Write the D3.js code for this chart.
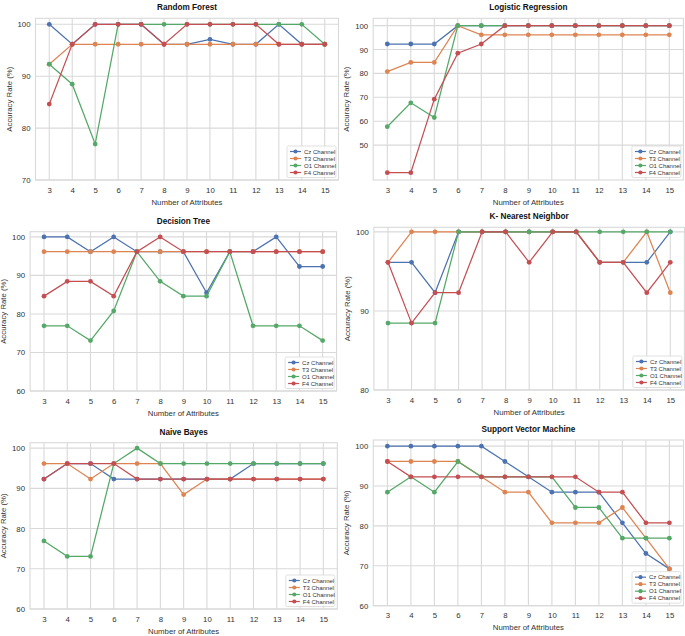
<!DOCTYPE html>
<html><head><meta charset="utf-8">
<script src="https://cdn.jsdelivr.net/npm/d3@7"></script>
<style>
html,body{margin:0;padding:0;background:#fff;}
svg{display:block;font-family:"Liberation Sans",Arial,sans-serif;}
</style></head>
<body>
<svg id="chart" width="685" height="636"></svg>
<script>
// ---- data ----
const attributes = [3,4,5,6,7,8,9,10,11,12,13,14,15];
const channels = ["Cz Channel","T3 Channel","O1 Channel","F4 Channel"];
const channelColors = ["#4c72b0","#dd8452","#55a868","#c44e52"];

const titles = ["Random Forest","Logistic Regression","Decision Tree","K- Nearest Neighbor","Naive Bayes","Support Vector Machine"];

const rfCz = [100,96.15,100,100,100,96.15,96.15,97.1,96.15,96.15,100,96.15,96.15];
const rfT3 = [92.31,96.15,96.15,96.15,96.15,96.15,96.15,96.15,96.15,96.15,96.15,96.15,96.15];
const rfO1 = [92.31,88.46,76.92,100,100,100,100,100,100,100,100,100,96.15];
const rfF4 = [84.62,96.15,100,100,100,96.15,100,100,100,100,96.15,96.15,96.15];

const lrCz = [92.31,92.31,92.31,100,100,100,100,100,100,100,100,100,100];
const lrT3 = [80.77,84.62,84.62,100,96.15,96.15,96.15,96.15,96.15,96.15,96.15,96.15,96.15];
const lrO1 = [57.69,67.7,61.54,100,100,100,100,100,100,100,100,100,100];
const lrF4 = [38.46,38.46,69.23,88.46,92.31,100,100,100,100,100,100,100,100];

const dtCz = [100,100,96.15,100,96.15,96.15,96.15,85.5,96.15,96.15,100,92.31,92.31];
const dtT3 = [96.15,96.15,96.15,96.15,96.15,96.15,96.15,96.15,96.15,96.15,96.15,96.15,96.15];
const dtO1 = [76.92,76.92,73.08,80.77,96.15,88.46,84.62,84.62,96.15,76.92,76.92,76.92,73.08];
const dtF4 = [84.62,88.46,88.46,84.62,96.15,100,96.15,96.15,96.15,96.15,96.15,96.15,96.15];

const knnCz = [96.15,96.15,92.31,100,100,100,100,100,100,96.15,96.15,96.15,100];
const knnT3 = [96.15,100,100,100,100,100,100,100,100,96.15,96.15,100,92.31];
const knnO1 = [88.46,88.46,88.46,100,100,100,100,100,100,100,100,100,100];
const knnF4 = [96.15,88.46,92.31,92.31,100,100,96.15,100,100,96.15,96.15,92.31,96.15];

const nbCz = [92.31,96.15,96.15,92.31,92.31,92.31,92.31,92.31,92.31,96.15,96.15,96.15,96.15];
const nbT3 = [96.15,96.15,92.31,96.15,96.15,96.15,88.46,92.31,92.31,92.31,92.31,92.31,92.31];
const nbO1 = [76.92,73.08,73.08,96.15,100,96.15,96.15,96.15,96.15,96.15,96.15,96.15,96.15];
const nbF4 = [92.31,96.15,96.15,96.15,92.31,92.31,92.31,92.31,92.31,92.31,92.31,92.31,92.31];

const svmCz = [100,100,100,100,100,96.15,92.31,88.46,88.46,88.46,80.77,73.08,69.23];
const svmT3 = [96.15,96.15,96.15,96.15,92.31,88.46,88.46,80.77,80.77,80.77,84.62,76.92,69.23];
const svmO1 = [88.46,92.31,88.46,96.15,92.31,92.31,92.31,92.31,84.62,84.62,76.92,76.92,76.92];
const svmF4 = [96.15,92.31,92.31,92.31,92.31,92.31,92.31,92.31,92.31,88.46,88.46,80.77,80.77];

const panelSeries = [
  [rfCz,rfT3,rfO1,rfF4],
  [lrCz,lrT3,lrO1,lrF4],
  [dtCz,dtT3,dtO1,dtF4],
  [knnCz,knnT3,knnO1,knnF4],
  [nbCz,nbT3,nbO1,nbF4],
  [svmCz,svmT3,svmO1,svmF4]
];
const yBottoms = [70,null,60,80,60,60];
const yTicks = [
  [70,80,90,100],
  [50,60,70,80,90,100],
  [60,70,80,90,100],
  [80,90,100],
  [60,70,80,90,100],
  [60,70,80,90,100]
];

// ---- layout (pixels) ----
const layout = [
  {L:35.5,R:338.5,T:18.3,B:180},
  {L:373.2,R:683.4,T:18.3,B:180},
  {L:30.1,R:336.6,T:231.7,B:391},
  {L:373.9,R:684.4,T:227.3,B:390},
  {L:30,R:337.3,T:442.7,B:609},
  {L:373.3,R:683.5,T:440,B:605.7}
];

const svg = d3.select("#chart");
const gridColor = "#d9d9d9";
const textColor = "#333";

panelSeries.forEach((series, i) => {
  const g = layout[i];
  const all = series.flat();
  const dmin = d3.min(all), dmax = d3.max(all);
  const lo = yBottoms[i] !== null ? yBottoms[i] : dmin - 0.05*(dmax-dmin);
  const hi = dmax + 0.05*(dmax - dmin);
  const x = d3.scaleLinear().domain([attributes[0]-0.6, attributes[attributes.length-1]+0.6]).range([g.L,g.R]);
  const y = d3.scaleLinear().domain([lo,hi]).range([g.B,g.T]);

  const p = svg.append("g");
  // grid
  p.append("g").selectAll("line").data(attributes).join("line")
    .attr("x1",d=>x(d)).attr("x2",d=>x(d)).attr("y1",g.T).attr("y2",g.B)
    .attr("stroke",gridColor).attr("stroke-width",1.1);
  p.append("g").selectAll("line").data(yTicks[i]).join("line")
    .attr("x1",g.L).attr("x2",g.R).attr("y1",d=>y(d)).attr("y2",d=>y(d))
    .attr("stroke",gridColor).attr("stroke-width",1.1);
  // frame
  p.append("rect").attr("x",g.L).attr("y",g.T).attr("width",g.R-g.L).attr("height",g.B-g.T)
    .attr("fill","none").attr("stroke",gridColor).attr("stroke-width",1.1);

  // axes via d3
  const xAxis = d3.axisBottom(x).tickValues(attributes).tickSize(0).tickPadding(7);
  const xa = p.append("g").attr("transform",`translate(0,${g.B})`).call(xAxis);
  const yAxis = d3.axisLeft(y).tickValues(yTicks[i]).tickSize(0).tickPadding(5);
  const ya = p.append("g").attr("transform",`translate(${g.L},0)`).call(yAxis);
  [xa,ya].forEach(a=>{
    a.select(".domain").remove();
    a.selectAll("text").attr("fill",textColor).style("font-size","7.8px").style("font-family","'Liberation Sans',Arial,sans-serif");
  });

  // title
  p.append("text").attr("x",(g.L+g.R)/2).attr("y",g.T-8).attr("text-anchor","middle")
    .style("font-size","8.2px").style("font-weight","bold").attr("fill","#111").text(titles[i]);
  // x label
  p.append("text").attr("x",(g.L+g.R)/2).attr("y",g.B+24.5).attr("text-anchor","middle")
    .style("font-size","7.8px").attr("fill",textColor).text("Number of Attributes");
  // y label
  p.append("text").attr("transform",`translate(${g.L-24},${(g.T+g.B)/2}) rotate(-90)`)
    .attr("text-anchor","middle").style("font-size","7.8px").attr("fill",textColor).text("Accuracy Rate (%)");

  // lines
  const line = d3.line().x((d,j)=>x(attributes[j])).y(d=>y(d));
  series.forEach((vals,k)=>{
    const s = p.append("g");
    s.append("path").datum(vals).attr("d",line).attr("fill","none")
      .attr("stroke",channelColors[k]).attr("stroke-width",1.25);
    s.selectAll("circle").data(vals).join("circle")
      .attr("cx",(d,j)=>x(attributes[j])).attr("cy",d=>y(d)).attr("r",2.4)
      .attr("fill",channelColors[k]);
  });

  // legend
  const lw = 49, lh = 31.5;
  const lx = g.R - 2.5 - lw, ly = g.B - 2.5 - lh;
  const lg = p.append("g").attr("transform",`translate(${lx},${ly})`);
  lg.append("rect").attr("width",lw).attr("height",lh).attr("rx",1.5)
    .attr("fill","#fff").attr("fill-opacity",0.85).attr("stroke","#d8d8d8").attr("stroke-width",0.8);
  channels.forEach((c,k)=>{
    const yy = 5.5 + k*7;
    lg.append("line").attr("x1",3).attr("x2",14).attr("y1",yy).attr("y2",yy)
      .attr("stroke",channelColors[k]).attr("stroke-width",1.2);
    lg.append("circle").attr("cx",8.5).attr("cy",yy).attr("r",2.1).attr("fill",channelColors[k]);
    lg.append("text").attr("x",17).attr("y",yy+2).style("font-size","6px").attr("fill",textColor).text(c);
  });
});
</script>
</body></html>
